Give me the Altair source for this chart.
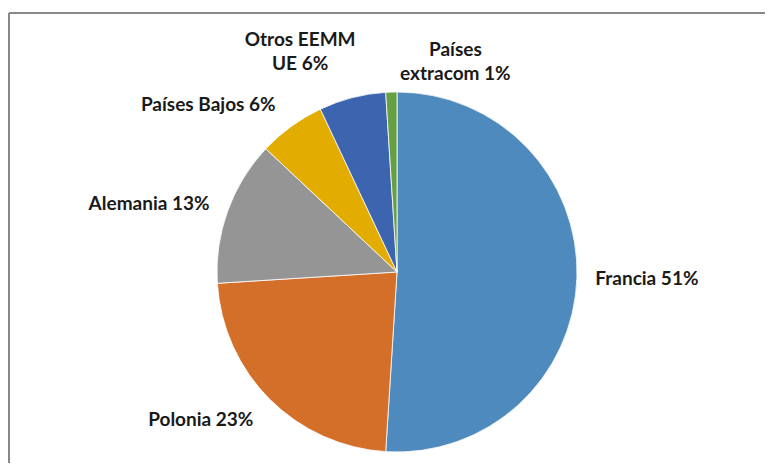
import math
import altair as alt
import pandas as pd

# ---- data ----
categories = ["Francia", "Polonia", "Alemania", "Países Bajos", "Otros EEMM UE", "Países extracom"]
values = [51, 23, 13, 6, 6, 1]
label_texts = ["Francia 51%", "Polonia 23%", "Alemania 13%", "Países Bajos 6%",
               "Otros EEMM\nUE 6%", "Países\nextracom 1%"]
colors = ["#4F8ABE", "#D46F2A", "#959595", "#E3AC00", "#3D64AE", "#66A043"]

# ---- label layout (style: angular shift in degrees, radial distance in px) ----
label_shift_deg = [-0.2, 7.9, -4.5, -12.5, -8.3, 16.5]
label_radius = [250, 246, 257, 252, 251, 230]

total = sum(values)
cum = 0
mids = []
for v in values:
    mids.append((cum + v / 2) / total * 2 * math.pi)
    cum += v

df = pd.DataFrame({
    "cat": categories,
    "value": values,
    "label": label_texts,
    "idx": list(range(len(values))),
    "ltheta": [m + math.radians(s) for m, s in zip(mids, label_shift_deg)],
    "lradius": label_radius,
})

CX, CY, R = 389, 264, 180
W, H = 757, 455

color_scale = alt.Scale(domain=categories, range=colors)

pie = alt.Chart(df).mark_arc(outerRadius=R, stroke="white", strokeWidth=0.8).encode(
    theta=alt.Theta("value:Q", stack=True),
    color=alt.Color("cat:N", scale=color_scale, legend=None),
    order=alt.Order("idx:Q"),
    x=alt.value(CX),
    y=alt.value(CY),
)

labels = alt.Chart(df).mark_text(
    font="Lato", fontWeight="bold", fontSize=19, color="#1a1a1a",
    align="center", baseline="middle", lineBreak="\n", lineHeight=24,
).encode(
    theta=alt.Theta("ltheta:Q", scale=None),
    radius=alt.Radius("lradius:Q", scale=None),
    text="label:N",
    x=alt.value(CX),
    y=alt.value(CY),
)

frame_top = alt.Chart(df).mark_rule(color="#888888", strokeWidth=1.5).encode(
    x=alt.value(1), x2=alt.value(W + 8), y=alt.value(5)
)
frame_left = alt.Chart(df).mark_rule(color="#888888", strokeWidth=1.5).encode(
    x=alt.value(1), y=alt.value(5), y2=alt.value(H + 8)
)

chart = alt.layer(frame_top, frame_left, pie, labels).properties(
    width=W, height=H, padding=0, autosize="none"
).configure_view(stroke=None)

chart.save("out.html", embed_options={"renderer": "svg", "actions": False})
